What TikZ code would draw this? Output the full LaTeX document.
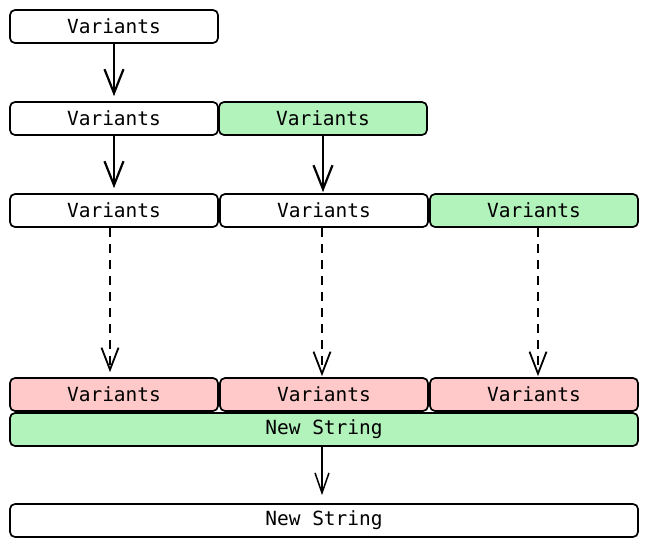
\documentclass[tikz,border=0pt]{standalone}
\usepackage{fontspec}
\newfontfamily\codefont{DejaVu Sans Mono}
\usetikzlibrary{positioning}
\usetikzlibrary{arrows.meta}

\definecolor{boxgreen}{HTML}{B2F2BB}
\definecolor{boxpink}{HTML}{FFC9C9}

\tikzset{
	varbox/.style = {draw = black, line width = 1.7pt, rounded corners = 5pt, fill = white, minimum height = 33pt, inner sep = 0pt, font = \codefont\fontsize{19.5}{21}\selectfont},
	narrow/.style = {varbox, minimum width = 208pt},
	wide/.style = {varbox, minimum width = 628pt},
	flow/.style = {black, line width = 2.2pt, -{Straight Barb[length = 24pt, width = 19pt]}},
	later/.style = {black, line width = 1.8pt, dash pattern = on 9pt off 7pt, -{Straight Barb[length = 22pt, width = 17pt]}},
	merge/.style = {black, line width = 1.5pt, -{Straight Barb[length = 20pt, width = 14pt]}}
}

\begin{document}
\begin{tikzpicture}[x = 1pt, y = -1pt]
					\useasboundingbox (0, 0) rectangle (649, 547);
					\node [narrow] (var1) at (114, 26.5) {Variants};
					\node [narrow] (var2a) at (114, 118.5) {Variants};
					\node [narrow, fill = boxgreen] (var2b) at (323, 118.5) {Variants};
					\node [narrow] (var3a) at (114, 210.5) {Variants};
					\node [narrow] (var3b) at (324, 210.5) {Variants};
					\node [narrow, fill = boxgreen] (var3c) at (534, 210.5) {Variants};
					\node [narrow, fill = boxpink] (var4a) at (114, 394.5) {Variants};
					\node [narrow, fill = boxpink] (var4b) at (324, 394.5) {Variants};
					\node [narrow, fill = boxpink] (var4c) at (534, 394.5) {Variants};
					\node [wide, fill = boxgreen] (newstr) at (324, 429.5) {New String};
					\node [wide] (result) at (324, 520.5) {New String};
					\draw [flow, shorten > = 5pt] (var1.south) -- (var2a.north);
					\draw [flow, shorten > = 5pt] (var2a.south) -- (var3a.north);
					\draw [flow, shorten > = 1pt] (var2b.south) -- (var2b.south |- var3b.north);
					\draw [later, shorten > = 5pt] ([xshift = -4pt] var3a.south) -- ([xshift = -4pt] var4a.north);
					\draw [later, shorten > = 1pt] ([xshift = -2pt] var3b.south) -- ([xshift = -2pt] var4b.north);
					\draw [later, shorten > = 1pt] ([xshift = 4pt] var3c.south) -- ([xshift = 4pt] var4c.north);
					\draw [merge, shorten > = 8pt] ([xshift = -2pt] newstr.south) -- ([xshift = -2pt] result.north);
				\end{tikzpicture}
\end{document}
